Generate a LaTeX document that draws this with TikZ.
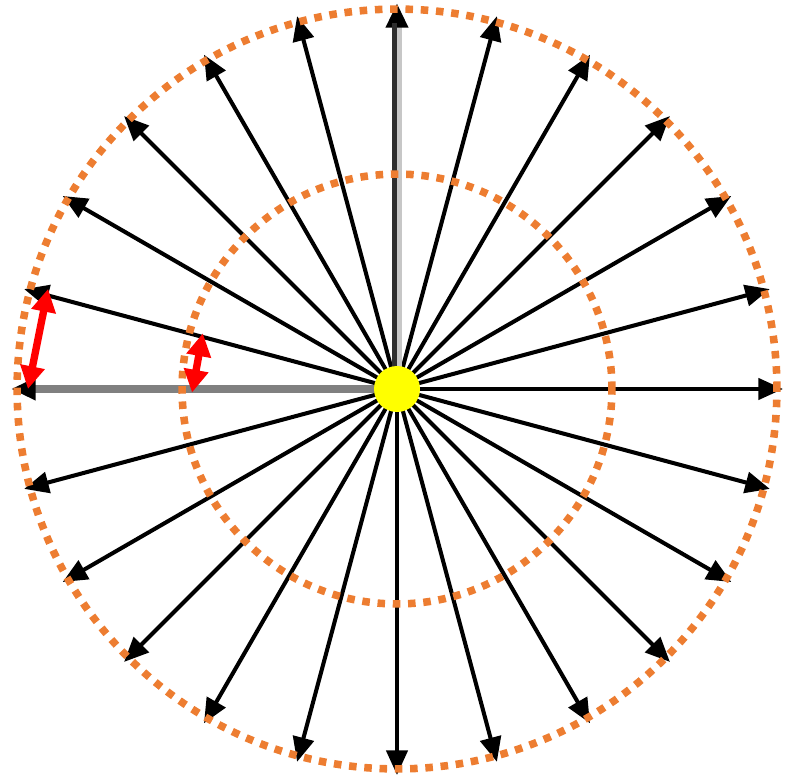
\documentclass[tikz,border=0pt]{standalone}
\usetikzlibrary{arrows.meta}
\definecolor{ringorange}{RGB}{237,125,49}
\definecolor{sunyellow}{RGB}{255,255,0}
\begin{document}
\begin{tikzpicture}[x=0.02cm,y=0.02cm,
  ray/.style={line width=2.3pt, black, -{Triangle[length=14pt,width=12pt,color=black]}},
  ring/.style={draw=ringorange, line width=4.3pt, dash pattern=on 4.3pt off 4.4pt, circle, inner sep=0pt, outer sep=0pt},
  redarrow/.style={draw=red, line width=4.2pt, {Triangle[length=13pt,width=13.5pt]}-{Triangle[length=13pt,width=13.5pt]}},
  sun/.style={circle, fill=sunyellow, minimum size=0.92cm, inner sep=0pt}]
\useasboundingbox (0,0) rectangle (792,779);
\coordinate (c) at (397,390);
% ray tips
\foreach \a in {0,15,...,345} {\path (c) ++(\a:386) coordinate (t\a);}
% black rays
\foreach \a in {0,15,30,45,60,75,105,120,135,150,165,195,210,225,240,255,270,285,300,315,330,345}
  {\draw[ray] (c) -- (t\a);}
% gray rays
\draw[ray, draw=black!22, line width=6pt] (c) -- (t90);
\draw[draw=black!82, line width=2.9pt] ([xshift=-2.6*0.02cm]c) -- ([xshift=-2.6*0.02cm,yshift=-20*0.02cm]t90);
\draw[ray, draw=black!50, line width=4pt] (c) -- (t180);
% dotted rings
\node[ring, minimum size=15.2cm] (outer) at (c) {};
\node[ring, minimum size=8.6cm] (inner) at (c) {};
% sun
\node[sun] (s) at (c) {};
% red double arrows
\path (c) ++(164:363) coordinate (a1);
\path (c) ++(180:369) coordinate (a2);
\path (c) ++(164:202) coordinate (b1);
\path (c) ++(181:205) coordinate (b2);
\draw[redarrow] (a1) -- (a2);
\draw[redarrow] (b1) -- (b2);
\end{tikzpicture}
\end{document}
